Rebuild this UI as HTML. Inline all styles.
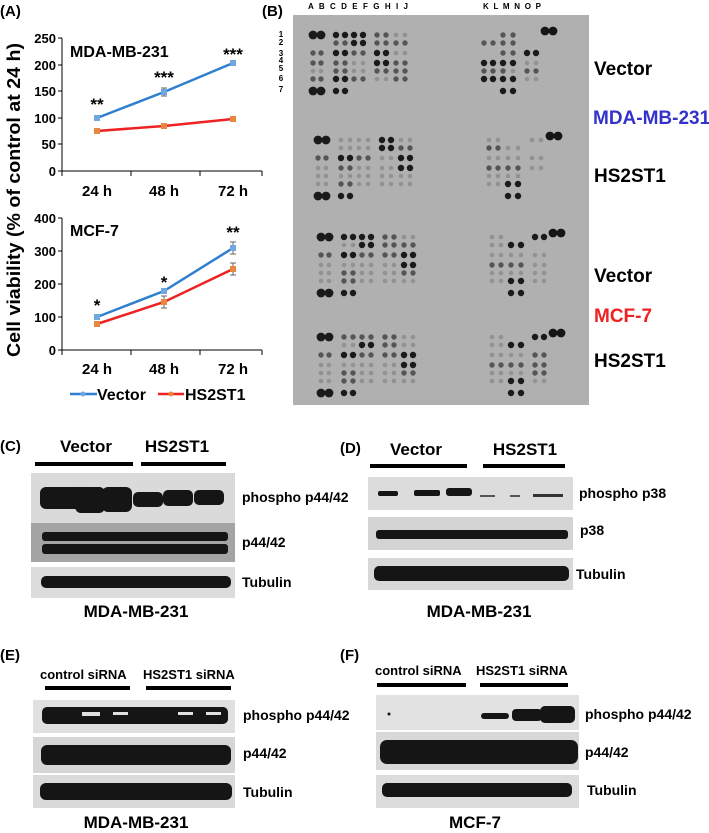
<!DOCTYPE html>
<html><head><meta charset="utf-8"><style>
html,body{margin:0;padding:0;background:#fff;}
svg{display:block;font-family:"Liberation Sans",Arial,sans-serif;font-weight:bold;}
</style></head><body>
<svg id="s" width="709" height="833" viewBox="0 0 709 833" xmlns="http://www.w3.org/2000/svg">
<!-- Panel A -->
<text x="0" y="16" font-size="15">(A)</text>
<text transform="translate(20,200) rotate(-90)" text-anchor="middle" font-size="18" textLength="314" lengthAdjust="spacingAndGlyphs">Cell viability (% of control at 24 h)</text>
<g font-size="13" text-anchor="end">
<text x="56" y="43">250</text><text x="56" y="70">200</text><text x="56" y="96">150</text><text x="56" y="123">100</text><text x="56" y="149">50</text><text x="56" y="176">0</text>
<text x="56" y="223">400</text><text x="56" y="256">300</text><text x="56" y="289">200</text><text x="56" y="322">100</text><text x="56" y="355">0</text>
</g>
<g stroke="#000" stroke-width="1" fill="none">
<path d="M62,38V171H262M58,38H62M58,65H62M58,91H62M58,118H62M58,144H62M58,171H62M62,171v5M131,171v5M200,171v5M262,171v5"/>
<path d="M62,218V350H262M58,218H62M58,251H62M58,284H62M58,317H62M58,350H62M62,350v5M131,350v5M200,350v5M262,350v5"/>
</g>
<g font-size="15" text-anchor="middle">
<text x="97" y="196">24 h</text><text x="164" y="196">48 h</text><text x="233" y="196">72 h</text>
<text x="97" y="374">24 h</text><text x="164" y="374">48 h</text><text x="233" y="374">72 h</text>
</g>
<text x="70" y="57" font-size="16">MDA-MB-231</text>
<text x="70" y="236" font-size="16">MCF-7</text>
<g font-size="17" text-anchor="middle">
<text x="97" y="110">**</text><text x="164" y="83">***</text><text x="233" y="60">***</text>
<text x="97" y="311">*</text><text x="164" y="288">*</text><text x="233" y="238">**</text>
</g>
<g stroke-width="2.5" fill="none">
<polyline stroke="#2f7fd0" points="97,118 164,92 233,63"/>
<polyline stroke="#ee2222" points="97,131 164,126 233,119"/>
<polyline stroke="#2f7fd0" points="97,317 164,291 233,248"/>
<polyline stroke="#ee2222" points="97,324 164,302 233,269"/>
</g>
<g stroke="#666" stroke-width="1">
<path d="M164,88v8M161,88h6M161,96h6M233,242v12M230,242h6M230,254h6M233,263v12M230,263h6M230,275h6M164,296v12M161,296h6M161,308h6"/>
</g>
<g fill="#6fa8e0"><rect x="94" y="115" width="6" height="6"/><rect x="161" y="89" width="6" height="6"/><rect x="230" y="60" width="6" height="6"/><rect x="94" y="314" width="6" height="6"/><rect x="161" y="288" width="6" height="6"/><rect x="230" y="245" width="6" height="6"/></g>
<g fill="#e88840"><rect x="94" y="128" width="6" height="6"/><rect x="161" y="123" width="6" height="6"/><rect x="230" y="116" width="6" height="6"/><rect x="94" y="321" width="6" height="6"/><rect x="161" y="299" width="6" height="6"/><rect x="230" y="266" width="6" height="6"/></g>
<line x1="70" y1="394" x2="97" y2="394" stroke="#2f7fd0" stroke-width="2.5"/><circle cx="83" cy="394" r="2.5" fill="#6fa8e0"/>
<text x="97" y="400" font-size="16">Vector</text>
<line x1="158" y1="394" x2="184" y2="394" stroke="#ee2222" stroke-width="2.5"/><circle cx="171" cy="394" r="2.5" fill="#e88840"/>
<text x="185" y="400" font-size="16">HS2ST1</text>

<!-- Panel B -->
<text x="262" y="16" font-size="15">(B)</text>
<g font-size="8"><text x="308" y="9" textLength="100" lengthAdjust="spacing">A B  C D E F  G H I J</text><text x="483" y="9" textLength="58" lengthAdjust="spacing">K L M N  O P</text></g>
<g font-size="8" text-anchor="middle"><text x="281" y="37">1</text><text x="281" y="45">2</text><text x="281" y="56">3</text><text x="281" y="63">4</text><text x="281" y="71">5</text><text x="281" y="81">6</text><text x="281" y="92">7</text></g>
<rect x="293" y="15" width="296" height="390" fill="#b0b0b0"/>
<g id="dots"></g>
<g font-size="19">
<text x="594" y="75">Vector</text>
<text x="593" y="124" fill="#3333cc">MDA-MB-231</text>
<text x="594" y="182">HS2ST1</text>
<text x="594" y="282">Vector</text>
<text x="594" y="322" fill="#ee2222">MCF-7</text>
<text x="594" y="367">HS2ST1</text>
</g>

<!-- Panel C -->
<text x="0" y="451" font-size="15">(C)</text>
<g font-size="17" text-anchor="middle"><text x="86" y="452">Vector</text><text x="177" y="452">HS2ST1</text></g>
<rect x="35" y="462" width="98" height="4"/><rect x="141" y="462" width="85" height="4"/>
<rect x="31" y="473" width="204" height="52" fill="#dadada"/>
<rect x="31" y="523" width="204" height="39" fill="#a4a4a4"/>
<rect x="31" y="567" width="204" height="31" fill="#dcdcdc"/>
<g fill="#151515">
<rect x="40" y="487" width="65" height="22" rx="6"/><rect x="75" y="487" width="30" height="26" rx="6"/>
<rect x="102" y="487" width="30" height="25" rx="6"/><rect x="133" y="492" width="30" height="15" rx="5"/><rect x="163" y="490" width="30" height="16" rx="5"/><rect x="194" y="490" width="30" height="15" rx="5"/>
<rect x="42" y="532" width="186" height="9" rx="3"/><rect x="42" y="544" width="186" height="10" rx="3"/>
<rect x="41" y="576" width="190" height="12" rx="5"/>
</g>
<g font-size="14"><text x="242" y="502">phospho p44/42</text><text x="242" y="547">p44/42</text><text x="242" y="587">Tubulin</text></g>
<text x="136" y="617" font-size="17" text-anchor="middle">MDA-MB-231</text>

<!-- Panel D -->
<text x="340" y="453" font-size="15">(D)</text>
<g font-size="17" text-anchor="middle"><text x="416" y="455">Vector</text><text x="525" y="455">HS2ST1</text></g>
<rect x="370" y="464" width="97" height="4"/><rect x="483" y="464" width="82" height="4"/>
<rect x="368" y="477" width="205" height="33" fill="#dcdcdc"/>
<rect x="368" y="517" width="205" height="33" fill="#d4d4d4"/>
<rect x="368" y="558" width="205" height="32" fill="#d8d8d8"/>
<g fill="#151515">
<rect x="378" y="491" width="20" height="5" rx="2"/><rect x="414" y="490" width="26" height="6" rx="2"/><rect x="446" y="488" width="26" height="8" rx="3"/>
<rect x="480" y="495" width="15" height="2" fill="#555"/><rect x="510" y="495" width="10" height="2" fill="#555"/><rect x="533" y="494" width="30" height="3" fill="#333"/>
<rect x="376" y="530" width="192" height="9" rx="3"/>
<rect x="374" y="566" width="195" height="15" rx="5"/>
</g>
<g font-size="14"><text x="579" y="498">phospho p38</text><text x="580" y="535">p38</text><text x="576" y="579">Tubulin</text></g>
<text x="479" y="617" font-size="17" text-anchor="middle">MDA-MB-231</text>

<!-- Panel E -->
<text x="0" y="660" font-size="15">(E)</text>
<g font-size="13"><text x="40" y="679">control siRNA</text><text x="143" y="679">HS2ST1 siRNA</text></g>
<rect x="45" y="686" width="85" height="4"/><rect x="146" y="686" width="85" height="4"/>
<rect x="33" y="700" width="202" height="33" fill="#e0e0e0"/>
<rect x="33" y="737" width="202" height="36" fill="#d6d6d6"/>
<rect x="33" y="775" width="202" height="33" fill="#dadada"/>
<g fill="#151515">
<rect x="42" y="707" width="186" height="17" rx="5"/>
<rect x="41" y="745" width="190" height="20" rx="6"/>
<rect x="40" y="783" width="192" height="17" rx="6"/>
</g>
<g fill="#e0e0e0"><rect x="82" y="712" width="18" height="4"/><rect x="113" y="712" width="15" height="3"/><rect x="178" y="712" width="15" height="3"/><rect x="206" y="712" width="15" height="3"/></g>
<g font-size="14"><text x="243" y="720">phospho p44/42</text><text x="243" y="758">p44/42</text><text x="243" y="797">Tubulin</text></g>
<text x="136" y="828" font-size="17" text-anchor="middle">MDA-MB-231</text>

<!-- Panel F -->
<text x="340" y="660" font-size="15">(F)</text>
<g font-size="13"><text x="375" y="675">control siRNA</text><text x="476" y="675">HS2ST1 siRNA</text></g>
<rect x="377" y="683" width="89" height="4"/><rect x="480" y="683" width="88" height="4"/>
<rect x="376" y="695" width="203" height="35" fill="#e2e2e2"/>
<rect x="376" y="732" width="203" height="38" fill="#d8d8d8"/>
<rect x="376" y="775" width="203" height="33" fill="#dcdcdc"/>
<g fill="#151515">
<circle cx="389" cy="714" r="1.5"/>
<rect x="481" y="713" width="28" height="6" rx="3"/><rect x="512" y="709" width="30" height="12" rx="4"/><rect x="540" y="706" width="35" height="17" rx="5"/>
<rect x="380" y="740" width="198" height="24" rx="7"/>
<rect x="382" y="783" width="190" height="14" rx="5"/>
</g>
<g font-size="14"><text x="585" y="719">phospho p44/42</text><text x="585" y="757">p44/42</text><text x="587" y="795">Tubulin</text></g>
<text x="475" y="828" font-size="17" text-anchor="middle">MCF-7</text>
</svg>
<script>
(function(){
var g=document.getElementById('dots'),ns='http://www.w3.org/2000/svg';
var xs=[313,321,336,345,354,363,377,386,396,405,484,493,503,513,527,536];
var ry=[0,8,18,28,36,44,56];
var grids=[
["33333322110022003","00223322222222000","22332233110022330","22221133223333110","11221122222221220","22332211223333110","333300000000330000"],
["33111133111100111","00111133222211000","22332211331111111","11221111332222110","11111111111111000","11221111111133000","333300000000330000"],
["33333322111100330","00113322221133000","22332222331111110","11111111332222110","11221111221111110","11221111111133110","333300000000330000"],
["33222222111100330","00113322111133000","22332222331111220","11111111332222220","11221111221111220","11221111111133110","333300000000330000"]];
var by=[35,140,237,337],bx=[0,5,8,8];
var col={3:'#1a1a1a',2:'#555',1:'#929292'},rad={3:3.2,2:2.7,1:2.3};
for(var b=0;b<4;b++){
 for(var r=0;r<7;r++){var s=grids[b][r];
  for(var c=0;c<16&&c<s.length;c++){var v=+s[c];if(!v)continue;
   var e=document.createElementNS(ns,'circle');
   var big=(r==0||r==6)&&c<2||(r==6&&(c==10||c==11));
   e.setAttribute('cx',xs[c]+bx[b]);e.setAttribute('cy',by[b]+ry[r]);
   e.setAttribute('r',big?4.4:rad[v]);e.setAttribute('fill',col[v]);g.appendChild(e);}
 }
 [545,553].forEach(function(x){var e=document.createElementNS(ns,'circle');e.setAttribute('cx',x+bx[b]);e.setAttribute('cy',by[b]-4);e.setAttribute('r',4.4);e.setAttribute('fill','#151515');g.appendChild(e);});
}
})();
</script>
</body></html>
